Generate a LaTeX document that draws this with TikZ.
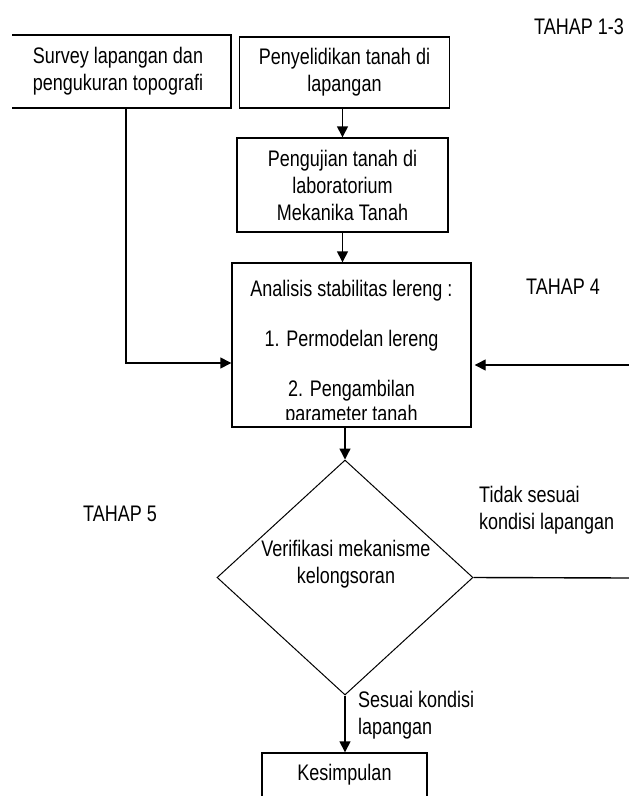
\documentclass[tikz,border=0pt]{standalone}
\usepackage{fontspec}
\setmainfont{Liberation Sans}[FakeStretch=0.8]
\usetikzlibrary{arrows.meta,shapes.geometric}

\begin{document}
\begin{tikzpicture}[x=1pt, y=-1pt,
  box/.style={draw, line width=1.4pt, align=center, inner sep=0pt},
  dec/.style={draw, diamond, line width=1pt, inner sep=0pt},
  txt/.style={align=center, inner sep=0pt},
  lbl/.style={align=left, inner sep=0pt, anchor=west},
  arr/.style={line width=1.4pt, -{Triangle[length=11pt, width=11pt]}},
  font=\fontsize{22.5}{27}\selectfont,
]
\useasboundingbox (0,0) rectangle (629,796);
\clip (12,0) rectangle (629,796);

\node [box, minimum width=226, minimum height=73] (survey) at (118,71.5) {Survey lapangan dan\\pengukuran topografi};
\node [box, minimum width=210, minimum height=71] (selidik) at (344.5,72.5) {Penyelidikan tanah di\\lapangan};
\node [box, minimum width=211, minimum height=94] (uji) at (342.5,185) {Pengujian tanah di\\laboratorium\\Mekanika Tanah};
\node [box, minimum width=239, minimum height=164] (analisis) at (351.5,345) {};
\begin{scope}
\clip (232,263) rectangle (471,419);
\node [txt, font=\fontsize{22.5}{25}\selectfont] (analisistxt) at (351.5,353) {Analisis stabilitas lereng :\\[25pt]1. Permodelan lereng\\[25pt]2. Pengambilan\\parameter tanah};
\end{scope}
\node [dec, minimum width=256, minimum height=235] (verif) at (345,577.5) {};
\node [txt] (veriftxt) at (346,564) {Verifikasi mekanisme\\kelongsoran};
\node [box, minimum width=165, minimum height=44] (simpul) at (344.5,775) {Kesimpulan};

\node [txt, anchor=east] (tahap1) at (624,27) {TAHAP 1-3};
\node [txt] (tahap4) at (563,287) {TAHAP 4};
\node [txt] (tahap5) at (120,514) {TAHAP 5};
\node [lbl] (tidak) at (479,510) {Tidak sesuai\\kondisi lapangan};
\node [lbl] (sesuai) at (358,715) {Sesuai kondisi\\lapangan};

\coordinate (kanan) at (629,365);
\coordinate (keluar) at (629,578);

\draw [arr] ([xshift=8pt]survey.south) |- ([yshift=-18pt]analisis.west);
\draw [arr] (selidik.south -| uji.north) -- (uji.north);
\draw [arr] (uji.south) -- (uji.south |- analisis.north);
\draw [arr] (kanan) -- ([xshift=3pt]analisis.east |- kanan);
\draw [arr] (analisis.south -| verif.north) -- (verif.north);
\draw [line width=1.4pt] (verif.east) -- (keluar);
\draw [arr] (verif.south) -- (verif.south |- simpul.north);

\end{tikzpicture}
\end{document}
